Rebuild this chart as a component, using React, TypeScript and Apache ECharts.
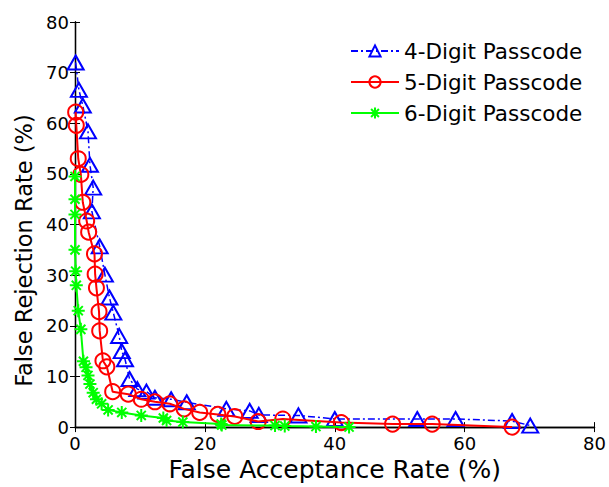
import React, { useEffect, useRef } from "react";
import * as echarts from "echarts";

const xTicks = [0, 20, 40, 60, 80];
const yTicks = [0, 10, 20, 30, 40, 50, 60, 70, 80];

const seriesNames = ["4-Digit Passcode", "5-Digit Passcode", "6-Digit Passcode"];

const fourX = [0.1, 0.6, 1.2, 2.0, 2.3, 2.8, 2.6, 3.8, 4.6, 5.3, 5.9, 6.8, 7.2, 7.7, 8.4, 9.6, 11.0, 12.3, 14.8, 17.2, 23.3, 26.9, 28.3, 34.4, 40.0, 52.7, 58.6, 67.3, 70.1];
const fourY = [72.0, 66.6, 63.5, 58.4, 51.8, 47.3, 42.6, 35.7, 30.1, 25.6, 22.6, 18.0, 15.0, 13.4, 9.5, 7.5, 7.0, 5.8, 5.5, 4.9, 3.6, 3.2, 2.4, 2.3, 1.6, 1.6, 1.6, 1.2, 0.3];

const fiveX = [0.1, 0.2, 0.5, 0.9, 1.2, 1.8, 2.1, 3.0, 3.1, 3.3, 3.7, 3.8, 4.3, 4.9, 5.8, 8.2, 10.2, 12.3, 14.6, 16.8, 19.2, 22.0, 24.6, 28.2, 32.0, 41.0, 48.9, 55.0, 67.3];
const fiveY = [62.2, 59.6, 53.0, 49.9, 44.4, 40.7, 38.5, 34.2, 30.2, 27.5, 22.8, 19.0, 13.1, 11.9, 7.0, 6.5, 5.5, 5.0, 4.6, 3.6, 2.9, 2.5, 2.1, 1.1, 1.6, 0.9, 0.6, 0.6, 0.0];

const sixX = [0.0, 0.0, 0.0, 0.0, 0.1, 0.2, 0.5, 0.9, 1.3, 1.7, 2.0, 2.3, 2.8, 3.3, 4.1, 5.1, 7.2, 10.2, 13.6, 14.1, 16.6, 22.5, 22.6, 30.8, 32.3, 37.1, 42.2];
const sixY = [49.5, 45.0, 42.0, 35.0, 30.8, 28.0, 23.0, 19.3, 13.0, 11.8, 10.2, 8.5, 6.8, 5.5, 4.6, 3.4, 2.9, 2.3, 1.8, 1.3, 1.0, 0.6, 0.4, 0.3, 0.2, 0.1, 0.0];

const zip = (xs: number[], ys: number[]) => xs.map((x, i) => [x, ys[i]]);

const FONT = "DejaVu Sans, sans-serif";

export default function App() {
  const ref = useRef<HTMLDivElement>(null);
  useEffect(() => {
    if (!ref.current) return;
    const chart = echarts.init(ref.current, undefined, { renderer: "svg" });
    const axisCommon = {
      type: "value" as const,
      splitLine: { show: false },
      axisLine: { show: true, lineStyle: { color: "#000", width: 1.3 } },
      axisTick: { show: true, inside: true, length: 5, lineStyle: { color: "#000" } },
    };
    chart.setOption({
      animation: false,
      backgroundColor: "#fff",
      grid: { left: 75, top: 22, right: 13, bottom: 59, containLabel: false },
      legend: {
        orient: "vertical",
        left: 345,
        top: 35,
        itemWidth: 48,
        itemHeight: 14,
        itemGap: 9,
        textStyle: { fontFamily: FONT, fontSize: 21.5, color: "#000" },
        data: seriesNames,
      },
      xAxis: [
        {
          ...axisCommon,
          min: xTicks[0],
          max: xTicks[xTicks.length - 1],
          interval: 20,
          position: "bottom",
          name: "False Acceptance Rate (%)",
          nameLocation: "middle",
          nameGap: 26,
          nameTextStyle: { fontFamily: FONT, fontSize: 25, color: "#000" },
          axisLabel: { fontFamily: FONT, fontSize: 18, color: "#000", margin: 7 },
        },
        {
          ...axisCommon,
          min: xTicks[0],
          max: xTicks[xTicks.length - 1],
          interval: 20,
          position: "top",
          axisLabel: { show: false },
        },
      ],
      yAxis: [
        {
          ...axisCommon,
          min: yTicks[0],
          max: yTicks[yTicks.length - 1],
          interval: 10,
          position: "left",
          name: "False Rejection Rate (%)",
          nameLocation: "middle",
          nameGap: 37,
          nameTextStyle: { fontFamily: FONT, fontSize: 22.5, color: "#000", padding: [0, 52, 0, 0] },
          axisLabel: { fontFamily: FONT, fontSize: 18, color: "#000", margin: 6 },
        },
        {
          ...axisCommon,
          min: yTicks[0],
          max: yTicks[yTicks.length - 1],
          interval: 10,
          position: "right",
          axisLabel: { show: false },
        },
      ],
      series: [
        {
          name: seriesNames[0],
          type: "line",
          data: zip(fourX, fourY),
          symbol: "triangle",
          symbolSize: [16, 14],
          itemStyle: { color: "rgba(0,0,0,0)", borderColor: "#0000ff", borderWidth: 2 },
          lineStyle: { color: "#0000ff", width: 1.5, type: [7, 3, 2, 3] },
          z: 3,
        },
        {
          name: seriesNames[1],
          type: "line",
          data: zip(fiveX, fiveY),
          symbol: "circle",
          symbolSize: 15,
          itemStyle: { color: "rgba(0,0,0,0)", borderColor: "#ff0000", borderWidth: 2 },
          lineStyle: { color: "#ff0000", width: 2 },
          z: 4,
        },
        {
          name: seriesNames[2],
          type: "line",
          data: zip(sixX, sixY),
          symbol: "path://M0,-1L0,1M-1,0L1,0M-0.7,-0.7L0.7,0.7M-0.7,0.7L0.7,-0.7",
          symbolSize: 13,
          itemStyle: { color: "rgba(0,0,0,0)", borderColor: "#00ff00", borderWidth: 2 },
          lineStyle: { color: "#00ff00", width: 2 },
          z: 5,
        },
      ],
    });
    return () => chart.dispose();
  }, []);
  return (
    <div
      ref={ref}
      style={{ position: "fixed", left: 0, top: 0, width: 609, height: 487, background: "#fff" }}
    />
  );
}
